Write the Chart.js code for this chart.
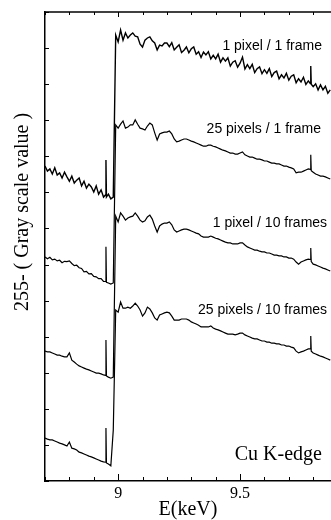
<!DOCTYPE html>
<html>
<head>
<meta charset="utf-8">
<script src="https://cdn.jsdelivr.net/npm/chart.js@4.4.1/dist/chart.umd.min.js"></script>
<style>
  html, body { margin: 0; padding: 0; background: #fff; }
  #wrap { width: 331px; height: 520px; }
</style>
</head>
<body>
<div id="wrap"><canvas id="xanesChart" width="331" height="520"></canvas></div>
<script>
// photon energy (keV), shared by all four spectra
const energies = [
  8.70, 8.71, 8.72, 8.73, 8.74, 8.75, 8.76, 8.77, 8.78, 8.79,
  8.80, 8.81, 8.82, 8.83, 8.84, 8.85, 8.86, 8.87, 8.88, 8.89,
  8.90, 8.91, 8.92, 8.93, 8.94,
  8.948, 8.95, 8.952,
  8.96, 8.97, 8.98, 8.99,
  9.00, 9.01, 9.02, 9.03, 9.04, 9.05, 9.06, 9.07, 9.08, 9.09,
  9.10, 9.11, 9.12, 9.13, 9.14, 9.15, 9.16, 9.17, 9.18, 9.19,
  9.20, 9.21, 9.22, 9.23, 9.24, 9.25, 9.26, 9.27, 9.28, 9.29,
  9.30, 9.31, 9.32, 9.33, 9.34, 9.35, 9.36, 9.37, 9.38, 9.39,
  9.40, 9.41, 9.42, 9.43, 9.44, 9.45, 9.46, 9.47, 9.48, 9.49,
  9.50, 9.51, 9.52, 9.53, 9.54, 9.55, 9.56, 9.57, 9.58, 9.59,
  9.60, 9.61, 9.62, 9.63, 9.64, 9.65, 9.66, 9.67, 9.68, 9.69,
  9.70, 9.71, 9.72, 9.73, 9.74, 9.75, 9.76, 9.77, 9.78,
  9.788, 9.79, 9.792,
  9.80, 9.81, 9.82, 9.83, 9.84, 9.85, 9.86, 9.87
];

// 255 - gray value, curves shifted apart as in the figure
const px1Frame1 = [
  87.3, 85.9, 86.5, 85.1, 86.8, 84.8, 85.4, 84.0, 85.6, 84.3,
  83.1, 84.5, 82.6, 83.4, 84.0, 81.8, 83.1, 81.2, 82.3, 81.5,
  80.1, 81.8, 79.5, 80.7, 78.7,
  79.3, 89.0, 78.7,
  79.5, 78.2, 78.7, 123.6,
  121.7, 125.0, 122.2, 124.2, 122.8, 123.6, 124.2, 123.3, 123.1, 121.1,
  120.3, 122.2, 122.8, 123.1, 122.0, 121.4, 119.5, 120.8, 120.6, 121.4,
  121.4, 120.4, 121.5, 119.5, 120.2, 120.9, 118.8, 119.4, 120.3, 118.7,
  119.8, 120.3, 118.3, 119.0, 117.4, 118.9, 118.1, 119.0, 117.0, 118.0,
  117.0, 118.3, 116.1, 117.3, 116.4, 117.3, 115.0, 116.1, 116.5, 114.7,
  115.8, 117.5, 114.2, 115.4, 114.3, 115.5, 113.2, 114.3, 114.8, 112.9,
  114.0, 113.0, 114.3, 112.1, 113.2, 113.6, 111.5, 112.6, 111.7, 113.0,
  111.1, 112.2, 112.6, 110.4, 111.5, 110.6, 111.9, 109.9, 110.9,
  110.2, 115.0, 110.0,
  109.3, 110.1, 108.4, 109.8, 108.4, 109.4, 107.5, 108.4
];
const px25Frame1 = [
  62.1, 61.6, 62.0, 61.3, 61.5, 61.0, 61.2, 60.5, 60.9, 60.8,
  61.0, 60.3, 59.7, 59.8, 59.1, 58.9, 58.0, 58.1, 57.4, 57.5,
  56.7, 56.6, 56.1, 56.1, 55.3,
  55.3, 64.9, 55.1,
  54.9, 54.6, 54.9, 98.7,
  97.8, 98.9, 99.8, 97.8, 98.1, 98.7, 98.7, 100.1, 98.9, 97.8,
  97.6, 97.3, 98.4, 99.2, 98.7, 96.5, 94.5, 96.2, 96.5, 96.7,
  96.7, 97.0, 96.2, 94.8, 94.0, 94.2, 94.5, 94.8, 94.8, 94.5,
  94.2, 94.0, 93.7, 93.4, 93.1, 92.8, 92.8, 93.1, 93.1, 92.8,
  92.6, 92.3, 92.0, 91.7, 91.5, 91.2, 90.9, 90.9, 90.6, 90.6,
  90.9, 91.2, 90.4, 90.1, 89.8, 89.8, 89.5, 89.2, 89.2, 89.0,
  88.7, 88.7, 88.4, 88.1, 88.1, 87.9, 87.9, 87.6, 87.3, 87.3,
  87.0, 86.8, 86.5, 85.4, 85.6, 85.6, 85.9, 86.2, 86.5,
  86.4, 90.4, 86.0,
  85.6, 85.1, 84.8, 84.5, 84.5, 84.3, 84.0, 83.7
];
const px1Frames10 = [
  36.0, 35.8, 35.8, 35.5, 35.2, 34.9, 34.9, 34.6, 34.4, 34.4,
  35.5, 33.5, 33.0, 32.4, 31.9, 31.6, 31.3, 31.0, 30.8, 30.5,
  30.2, 29.9, 29.9, 29.7, 29.4,
  29.3, 39.1, 29.1,
  28.8, 28.5, 28.8, 73.4,
  71.8, 74.3, 73.4, 72.3, 72.9, 73.2, 73.4, 74.3, 73.4, 72.3,
  71.8, 72.1, 73.2, 73.7, 72.6, 70.7, 69.0, 70.7, 71.2, 71.5,
  71.5, 71.8, 71.0, 69.6, 69.0, 69.3, 69.6, 69.8, 69.8, 69.6,
  69.3, 69.0, 68.7, 68.5, 67.9, 67.6, 67.6, 67.6, 67.9, 67.6,
  67.3, 67.1, 66.8, 66.5, 66.2, 66.0, 66.0, 65.7, 65.7, 65.7,
  66.0, 66.0, 65.4, 64.9, 64.6, 64.3, 64.0, 64.0, 63.7, 63.5,
  63.5, 63.2, 63.2, 62.9, 62.6, 62.6, 62.4, 62.4, 62.1, 62.1,
  61.8, 61.8, 61.5, 60.7, 60.1, 60.7, 61.0, 61.3, 61.5,
  61.4, 64.6, 60.8,
  60.1, 59.9, 59.6, 59.3, 59.0, 58.8, 58.5, 58.2
];
const px25Frames10 = [
  11.9, 11.6, 11.4, 11.4, 11.1, 10.8, 10.5, 10.3, 10.0, 9.7,
  10.8, 9.1, 8.9, 8.6, 8.0, 7.8, 7.5, 7.2, 6.9, 6.7,
  6.4, 6.1, 5.8, 5.5, 5.3,
  5.2, 14.7, 5.0,
  4.7, 4.2, 14.1, 47.4,
  46.8, 49.6, 47.9, 47.9, 48.2, 47.9, 48.5, 49.3, 48.5, 47.4,
  45.7, 46.6, 48.2, 47.7, 46.6, 45.2, 44.6, 46.0, 46.3, 46.6,
  46.8, 46.6, 45.7, 44.6, 44.6, 44.6, 44.9, 44.9, 44.9, 44.6,
  44.1, 43.8, 43.5, 43.2, 42.7, 42.7, 42.7, 42.7, 43.0, 42.4,
  42.1, 41.9, 41.6, 41.3, 41.0, 40.7, 40.7, 40.7, 40.5, 40.7,
  41.0, 41.0, 40.5, 40.2, 39.9, 39.6, 39.4, 39.4, 39.1, 38.8,
  38.8, 38.5, 38.5, 38.2, 38.2, 38.0, 38.0, 37.7, 37.7, 37.4,
  37.4, 37.1, 36.9, 36.0, 35.5, 35.8, 36.0, 36.3, 36.6,
  36.6, 40.2, 36.0,
  35.5, 35.2, 34.9, 34.6, 34.4, 34.1, 33.8, 33.5
];

const seriesNames = ['1 pixel / 1 frame', '25 pixels / 1 frame', '1 pixel / 10 frames', '25 pixels / 10 frames'];
const xTickLabels = ['9', '9.5'];
const edgeName = 'Cu K-edge';

const spectra = [px1Frame1, px25Frame1, px1Frames10, px25Frames10];

// where each caption sits (keV, value), right aligned
const captionSpots = [[9.836, 120.6], [9.832, 97.6], [9.857, 71.5], [9.857, 47.4]];

// inward ticks and top frame line
const frameTicks = {
  id: 'frameTicks',
  afterDraw(chart) {
    const { ctx, chartArea: a, scales: { x, y } } = chart;
    ctx.save();
    ctx.strokeStyle = '#000';
    ctx.lineWidth = 1.5;
    ctx.beginPath();
    ctx.moveTo(a.left, a.top);
    ctx.lineTo(a.right, a.top);
    ctx.stroke();
    ctx.lineWidth = 1;
    x.ticks.forEach(t => {
      const tenth = Math.round(t.value * 10);
      if (Math.abs(t.value * 10 - tenth) > 1e-6) return;
      const px = Math.round(x.getPixelForValue(t.value)) + 0.5;
      const major = tenth % 5 === 0;
      ctx.beginPath();
      ctx.moveTo(px, a.bottom);
      ctx.lineTo(px, a.bottom - (major ? 7 : 4));
      ctx.moveTo(px, a.top);
      ctx.lineTo(px, a.top + (major ? 5 : 3));
      ctx.stroke();
    });
    y.ticks.forEach(t => {
      const py = Math.round(y.getPixelForValue(t.value)) + 0.5;
      ctx.beginPath();
      ctx.moveTo(a.left, py);
      ctx.lineTo(a.left + 4, py);
      ctx.stroke();
    });
    ctx.restore();
  }
};

// captions, edge name and the rotated y title
const captions = {
  id: 'captions',
  afterDraw(chart) {
    const { ctx, scales: { x, y } } = chart;
    ctx.save();
    ctx.fillStyle = '#000';
    ctx.textAlign = 'right';
    ctx.textBaseline = 'middle';
    ctx.font = '14px "Liberation Sans", Arial, sans-serif';
    seriesNames.forEach((name, i) => {
      const [e, v] = captionSpots[i];
      ctx.fillText(name, x.getPixelForValue(e), y.getPixelForValue(v));
    });
    ctx.font = '20px "Liberation Serif", "Times New Roman", serif';
    ctx.fillText(edgeName, x.getPixelForValue(9.836), y.getPixelForValue(7.2));

    ctx.translate(28, 212);
    ctx.rotate(-Math.PI / 2);
    ctx.textAlign = 'center';
    ctx.textBaseline = 'alphabetic';
    ctx.fillText('255- ( Gray scale value )', 0, 0);
    ctx.restore();
  }
};

Chart.defaults.font.family = '"Liberation Serif", "Times New Roman", serif';
Chart.defaults.color = '#000';

const ctx = document.getElementById('xanesChart').getContext('2d');
const xanesChart = new Chart(ctx, {
  type: 'line',
  data: {
    datasets: spectra.map((vals, i) => ({
      label: seriesNames[i],
      data: energies.map((e, k) => ({ x: e, y: vals[k] })),
      borderColor: '#000',
      borderWidth: i === 0 ? 1.4 : 1.2,
      pointRadius: 0,
      tension: 0,
      fill: false
    }))
  },
  options: {
    responsive: false,
    animation: false,
    devicePixelRatio: 1,
    layout: { padding: { left: 45, top: 12, right: 0, bottom: 0 } },
    plugins: {
      legend: { display: false },
      tooltip: { enabled: false }
    },
    scales: {
      x: {
        type: 'linear',
        min: 8.7,
        max: 9.873,
        grid: { display: false },
        border: { display: true, color: '#000', width: 1.5 },
        ticks: {
          stepSize: 0.1,
          includeBounds: false,
          autoSkip: false,
          maxRotation: 0,
          padding: -5,
          font: { size: 16 },
          callback: v => {
            const hit = xTickLabels.find(l => Math.abs(Number(l) - v) < 1e-6);
            return hit || '';
          }
        },
        title: {
          display: true,
          text: 'E(keV)',
          font: { size: 20, lineHeight: 1 },
          padding: 0
        },
        afterFit: s => { s.height = 39; }
      },
      y: {
        min: 0,
        max: 130,
        grid: { display: false },
        border: { display: true, color: '#000', width: 1.5 },
        ticks: { display: false, stepSize: 10 },
        afterFit: s => { s.width = 0; }
      }
    }
  },
  plugins: [frameTicks, captions]
});
</script>
</body>
</html>
